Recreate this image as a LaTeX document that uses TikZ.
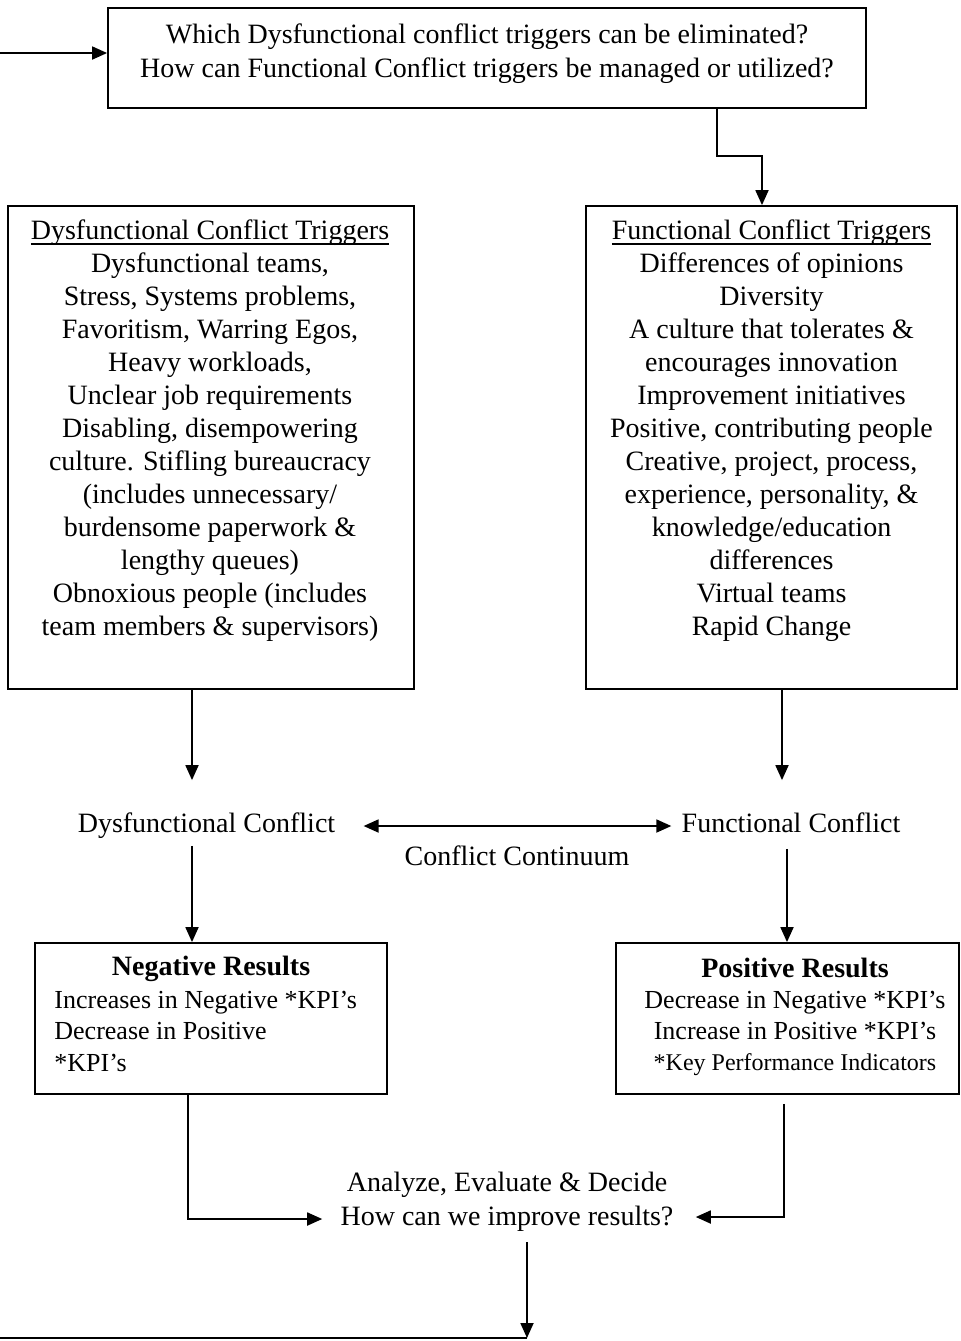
\documentclass[tikz,border=0pt]{standalone}
\usepackage{fontspec}
\setmainfont{Liberation Serif}
\usetikzlibrary{arrows.meta}
\newcommand\headul[1]{\setbox0\hbox{#1}\rlap{\rule[-2.6pt]{\wd0}{0.9pt}}\box0}

\begin{document}
\begin{tikzpicture}[
        x=0.5pt, y=-0.5pt,% one unit = one pixel of the sketch
        >={Triangle[length=7.5pt,width=6.5pt]},
        frame/.style = {rectangle, draw, line width=0.9pt, inner sep=0pt},% empty boxes
        txt/.style = {align=center, inner sep=0pt,
                font=\fontsize{14pt}{#1}\selectfont},
        txt/.default=16.5pt,
        word/.style = {txt, text height=9.5pt, text depth=3pt},
        arr/.style = {line width=0.9pt, ->},
        link/.style = {line width=0.9pt},
    ]
    \useasboundingbox (0,0) rectangle (961,1341);
    % boxes
    \node[frame, minimum width=379pt, minimum height=50pt] (top) at (487,58) {};
    \node[frame, minimum width=203pt, minimum height=241.5pt] (dbox) at (211,447.5) {};
    \node[frame, minimum width=185.5pt, minimum height=241.5pt] (fbox) at (771.5,447.5) {};
    \node[frame, minimum width=176pt, minimum height=75.5pt] (neg) at (211,1018.5) {};
    \node[frame, minimum width=171.5pt, minimum height=75.5pt] (pos) at (787.5,1018.5) {};
    % texts
    \node[txt=17pt] (qtext) at (487,54) {Which Dysfunctional conflict triggers can be eliminated?\\
        How can Functional Conflict triggers be managed or utilized?};
    \node[txt] (dtext) at (210,431) {\headul{Dysfunctional Conflict Triggers}\\
        Dysfunctional teams,\\ Stress, Systems problems,\\ Favoritism, Warring Egos,\\
        Heavy workloads,\\ Unclear job requirements\\ Disabling, disempowering\\
        culture. Stifling bureaucracy\\ (includes unnecessary/\\ burdensome paperwork \&\\
        lengthy queues)\\ Obnoxious people (includes\\ team members \& supervisors)};
    \node[txt] (ftext) at (771.5,431) {\headul{Functional Conflict Triggers}\\
        Differences of opinions\\ Diversity\\ A culture that tolerates \&\\
        encourages innovation\\ Improvement initiatives\\ Positive, contributing people\\
        Creative, project, process,\\ experience, personality, \&\\ knowledge/education\\
        differences\\ Virtual teams\\ Rapid Change};
    \node[word] (dconf) at (206.5,826) {Dysfunctional Conflict};
    \node[word] (fconf) at (791,826) {Functional Conflict};
    \node[txt] (cont) at (517,856) {Conflict Continuum};
    \node[word] (nhead) at (211,969) {\textbf{Negative Results}};
    \node[txt, align=left, anchor=west, font=\fontsize{13pt}{15.75pt}\selectfont] (ntext) at (54,1031)
        {Increases in Negative *KPI's\\ Decrease in Positive\\ {}*KPI's};
    \node[txt=15.5pt, font=\fontsize{13pt}{15.5pt}\selectfont] (ptext) at (795,1017)
        {{\fontsize{14pt}{15.5pt}\selectfont\textbf{Positive Results}}\\
        Decrease in Negative *KPI's\\ Increase in Positive *KPI's\\
        {\fontsize{12pt}{16pt}\selectfont *Key Performance Indicators}};
    \node[txt=17pt] (ana) at (507,1202) {Analyze, Evaluate \& Decide\\ How can we improve results?};
    % loose ends at the edge
    \coordinate (entry) at (0,53);
    \coordinate (turn) at (527,1338);
    \coordinate (exit) at (0,1338);
    % connectors
    \draw[arr] (entry) -- (entry -| top.west);
    \draw[arr] ([xshift=115pt]top.south) -- ++(0,47) -| ([xshift=-4.75pt]fbox.north);
    \draw[arr] ([xshift=-9.5pt]dbox.south) -- ([xshift=-7.25pt,yshift=16.5pt]dconf.north);
    \draw[arr] ([xshift=5.25pt]fbox.south) -- ([xshift=-4.5pt,yshift=16.5pt]fconf.north);
    \draw[arr, <->] ([xshift=14pt]dconf.east) -- ([xshift=-5pt]fconf.west);
    \draw[arr] ([xshift=-7.25pt,yshift=-3.5pt]dconf.south) -- ([xshift=-9.5pt]neg.north);
    \draw[arr] ([xshift=-2pt,yshift=-5pt]fconf.south) -- ([xshift=-0.25pt]pos.north);
    \draw[arr] ([xshift=-11.5pt]neg.south) |- ([xshift=-9pt,yshift=-8.5pt]ana.west);
    \draw[arr] ([xshift=-1.75pt,yshift=-4.5pt]pos.south) |- ([xshift=11pt,yshift=-7.5pt]ana.east);
    \draw[arr, shorten <=5pt] (turn |- ana.south) -- (turn);
    \draw[link] (turn) -- (exit);
\end{tikzpicture}
\end{document}
